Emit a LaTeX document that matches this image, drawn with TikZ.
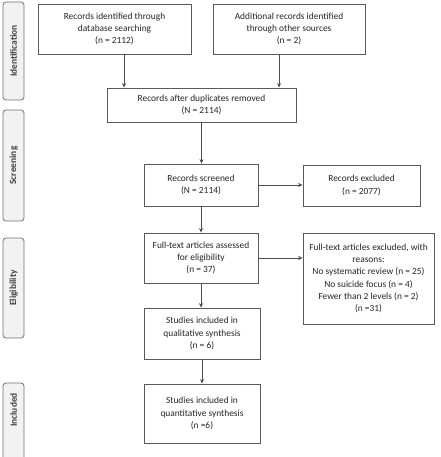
\documentclass[tikz,border=0pt]{standalone}
\usepackage{fontspec}
\setmainfont{Carlito}
\usetikzlibrary{arrows.meta,calc}
\definecolor{boxline}{HTML}{5A5A5A}
\definecolor{tabline}{HTML}{707070}
\definecolor{tabfill}{HTML}{F2F2F2}
\definecolor{txt}{HTML}{262626}
\begin{document}
\begin{tikzpicture}[x=1pt,y=-1pt,
  fbox/.style={draw=boxline,line width=0.8pt,fill=white,align=center,inner sep=2pt,
    font=\fontsize{9.4}{12.3}\selectfont,text=txt},
  tab/.style={draw=tabline,line width=0.8pt,fill=tabfill,rounded corners=3pt},
  tablabel/.style={rotate=90,font=\fontsize{9.4}{11}\selectfont\bfseries,text=black!75},
  arr/.style={draw=black!70,line width=0.7pt,-{Stealth[length=4.5pt,width=4pt]}}]
\useasboundingbox (0,0) rectangle (440,457);
\begin{scope}
\clip (0,0) rectangle (440,457);
% side tabs
\draw[tab] (3,2) rectangle (24,100);
\node[tablabel] (tid) at (13.5,51) {Identification};
\draw[tab] (3,110) rectangle (24,221);
\node[tablabel] (tsc) at (13.5,165.5) {Screening};
\draw[tab] (3,238) rectangle (24,338);
\node[tablabel] (tel) at (13.5,288) {Eligibility};
\draw[tab] (3,383) rectangle (24,475);
\node[tablabel] (tin) at (13.5,410) {Included};
\end{scope}
% boxes
\node[fbox,minimum width=153pt,minimum height=50pt] (b1) at (114.5,29) {Records identified through\\database searching\\(n = 2112)};
\node[fbox,minimum width=152pt,minimum height=50pt] (b2) at (289,29) {Additional records identified\\through other sources\\(n = 2)};
\node[fbox,minimum width=189pt,minimum height=34pt] (b3) at (201.5,105) {Records after duplicates removed\\(N = 2114)};
\node[fbox,minimum width=114pt,minimum height=42pt] (b4) at (201,185) {Records screened\\(N = 2114)};
\node[fbox,minimum width=117pt,minimum height=41pt] (b5) at (361.5,185.5) {Records excluded\\(n = 2077)};
\node[fbox,minimum width=114pt,minimum height=50pt] (b6) at (201,258) {Full-text articles assessed\\for eligibility\\(n = 37)};
\node[fbox,minimum width=131pt,minimum height=91pt] (b7) at (368.5,278.5) {Full-text articles excluded, with\\reasons:\\No systematic review (n = 25)\\No suicide focus (n = 4)\\Fewer than 2 levels (n = 2)\\(n =31)};
\node[fbox,minimum width=116pt,minimum height=51pt] (b8) at (202,333.5) {Studies included in\\qualitative synthesis\\(n = 6)};
\node[fbox,minimum width=116pt,minimum height=59pt] (b9) at (202,413.5) {Studies included in\\quantitative synthesis\\(n =6)};
% connectors
\coordinate (a1) at ($(b1.south)+(9.5,0)$);
\draw[arr] (a1) -- (a1 |- b3.north);
\coordinate (a2) at ($(b2.south)+(-10,0)$);
\draw[arr] (a2) -- (a2 |- b3.north);
\draw[arr] (b3.south) -- (b3.south |- b4.north);
\draw[arr] (b4.east) -- (b4.east -| b5.west);
\draw[arr] (b4.south) -- (b4.south |- b6.north);
\draw[arr] (b6.east) -- (b6.east -| b7.west);
\draw[arr] (b6.south) -- (b6.south |- b8.north);
\draw[arr] (b8.south) -- (b8.south |- b9.north);
\end{tikzpicture}
\end{document}
